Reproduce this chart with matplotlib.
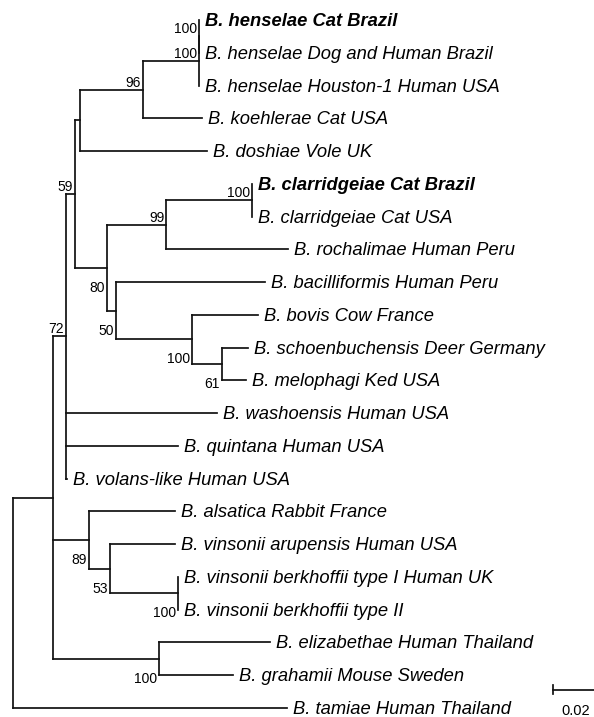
"""
Bartonella phylogenetic tree (neighbour-joining style layout)
"""
import matplotlib
matplotlib.use('Agg')
import matplotlib.pyplot as plt

plt.rcParams['font.family'] = ['Liberation Sans', 'DejaVu Sans']

# leaves, top to bottom
taxa = ['B. henselae Cat Brazil', 'B. henselae Dog and Human Brazil', 'B. henselae Houston-1 Human USA',
        'B. koehlerae Cat USA', 'B. doshiae Vole UK', 'B. clarridgeiae Cat Brazil', 'B. clarridgeiae Cat USA',
        'B. rochalimae Human Peru', 'B. bacilliformis Human Peru', 'B. bovis Cow France',
        'B. schoenbuchensis Deer Germany', 'B. melophagi Ked USA', 'B. washoensis Human USA',
        'B. quintana Human USA', 'B. volans-like Human USA', 'B. alsatica Rabbit France',
        'B. vinsonii arupensis Human USA', 'B. vinsonii berkhoffii type I Human UK',
        'B. vinsonii berkhoffii type II', 'B. elizabethae Human Thailand', 'B. grahamii Mouse Sweden',
        'B. tamiae Human Thailand']
bold_taxa = ['B. henselae Cat Brazil', 'B. clarridgeiae Cat Brazil']
leaf_parent = ['nHi', 'nHi', 'nH', 'n96', 'nA', 'nCl', 'nCl', 'n99', 'n50', 'n100b', 'n61', 'n61',
               'n72', 'n72', 'n72', 'n89', 'n53', 'nBk', 'nBk', 'n100e', 'n100e', 'root']
leaf_length = [0.0, 0.0, 0.0, 0.0257, 0.0552, 0.0, 0.0, 0.0530, 0.0648, 0.0287, 0.0113, 0.0104,
               0.0657, 0.0487, 0.0004, 0.0374, 0.0283, 0.0, 0.0, 0.0483, 0.0322, 0.1191]

# internal nodes
node_parent = {'root': None, 'n1': 'root', 'n72': 'n1', 'n59': 'n72', 'nA': 'n59', 'n96': 'nA',
               'nH': 'n96', 'nHi': 'nH', 'n80': 'n59', 'n99': 'n80', 'nCl': 'n99', 'n50': 'n80',
               'n100b': 'n50', 'n61': 'n100b', 'n89': 'n1', 'n53': 'n89', 'nBk': 'n53', 'n100e': 'n1'}
node_length = {'root': 0.0, 'n1': 0.0174, 'n72': 0.0057, 'n59': 0.0039, 'nA': 0.0022, 'n96': 0.0274,
               'nH': 0.0243, 'nHi': 0.0, 'n80': 0.0139, 'n99': 0.0257, 'nCl': 0.0374, 'n50': 0.0039,
               'n100b': 0.0330, 'n61': 0.0130, 'n89': 0.0157, 'n53': 0.0091, 'nBk': 0.0296,
               'n100e': 0.0461}
bootstrap = {'nHi': 100, 'nH': 100, 'n96': 96, 'n59': 59, 'nCl': 100, 'n99': 99, 'n80': 80,
             'n50': 50, 'n100b': 100, 'n61': 61, 'n72': 72, 'n89': 89, 'n53': 53, 'nBk': 100,
             'n100e': 100}
scale_length = 0.02

# label placement (above / below the node)
label_above = ['nHi', 'nH', 'n96', 'n59', 'nCl', 'n99', 'n72']

# pixel geometry of the figure
px_per_unit = 2300
row_px = 32.76
x0_px, y0_px = 13, 20
W, H = 594, 717

# x positions
def node_x(n):
    x = 0.0
    while n is not None:
        x += node_length[n]
        n = node_parent[n]
    return x

nx = {n: node_x(n) for n in node_parent}
leaf_x = [nx[p] + l for p, l in zip(leaf_parent, leaf_length)]

# y positions: node at middle of first and last child
children = {n: [] for n in node_parent}
for i, p in enumerate(leaf_parent):
    children[p].append(('leaf', i))
for n, p in node_parent.items():
    if p is not None:
        children[p].append(('node', n))

ny = {}
def y_of(item):
    kind, v = item
    if kind == 'leaf':
        return float(v)
    if v not in ny:
        ys = [y_of(c) for c in children[v]]
        ny[v] = (min(ys) + max(ys)) / 2
    return ny[v]

for n in node_parent:
    y_of(('node', n))

fig = plt.figure(figsize=(W / 100, H / 100), dpi=100)
ax = fig.add_axes([0, 0, 1, 1])
ax.set_xlim(-x0_px / px_per_unit, (W - x0_px) / px_per_unit)
ax.set_ylim((H - y0_px) / row_px, -y0_px / row_px)
ax.axis('off')

lc = '#111111'
lw = 1.25
kw = dict(color=lc, lw=lw, solid_capstyle='projecting')

# vertical connectors
for n in node_parent:
    ys = [y_of(c) for c in children[n]]
    ax.plot([nx[n], nx[n]], [min(ys), max(ys)], **kw)
# horizontal branches
for n, p in node_parent.items():
    if p is not None:
        ax.plot([nx[p], nx[n]], [ny[n], ny[n]], **kw)
for i, p in enumerate(leaf_parent):
    ax.plot([nx[p], leaf_x[i]], [i, i], **kw)

# leaf labels
for i, name in enumerate(taxa):
    ax.annotate(name, (leaf_x[i], i), xytext=(6, -6), textcoords='offset pixels',
                ha='left', va='baseline', fontsize=13.2, style='italic',
                fontweight='bold' if name in bold_taxa else 'normal')

# bootstrap values
for n, v in bootstrap.items():
    off = (-2, 3) if n in label_above else (-2, -24)
    ax.annotate(str(v), (nx[n], ny[n]), xytext=off, textcoords='offset pixels',
                ha='right', va='baseline', fontsize=10)

# scale bar
sx = (553 - x0_px) / px_per_unit
sy = (690 - y0_px) / row_px
ax.plot([sx, sx + scale_length], [sy, sy], **kw)
ax.plot([sx, sx], [sy - 4.5 / row_px, sy + 4.5 / row_px], color=lc, lw=lw)
ax.text(sx + scale_length / 2, (715 - y0_px) / row_px, str(scale_length), ha='center',
        va='baseline', fontsize=10.5)

fig.savefig('out.png', dpi=100)
